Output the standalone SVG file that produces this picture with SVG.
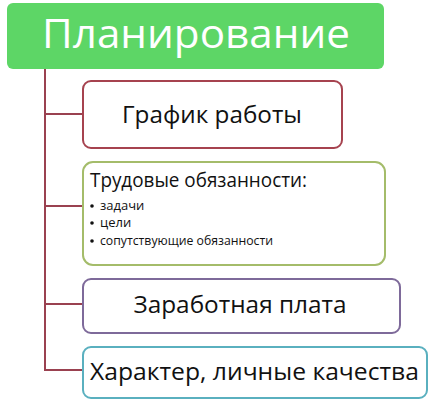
<svg xmlns="http://www.w3.org/2000/svg" width="434" height="408" viewBox="0 0 434 408">
<style>
.t{font-family:"Open Sans","Noto Sans","Liberation Sans",sans-serif;fill:#111}
.box{fill:#fff;stroke-width:2}
.conn{stroke:#9a4150;stroke-width:2;fill:none}
.dot{fill:#111}
</style>
<rect width="434" height="408" fill="#fff"/>
<g id="connectors">
<path class="conn" d="M45 68 V370 H83 M45 114 H83 M45 206 H83 M45 304 H83"/>
</g>
<g id="root">
<rect x="7" y="3" width="377" height="66" rx="6" fill="#5dd666"/>
<text class="t" x="196" y="48" text-anchor="middle" font-size="41" style="fill:#fff" textLength="308" lengthAdjust="spacingAndGlyphs">Планирование</text>
</g>
<g id="node-schedule">
<rect class="box" x="83" y="81" width="259" height="67" rx="8" stroke="#a6434f"/>
<text class="t" x="212" y="123" text-anchor="middle" font-size="23" textLength="180" lengthAdjust="spacingAndGlyphs">График работы</text>
</g>
<g id="node-duties">
<rect class="box" x="83" y="162" width="302" height="103" rx="10" stroke="#a4bc6a"/>
<text class="t" x="90" y="187" font-size="20" textLength="217" lengthAdjust="spacingAndGlyphs">Трудовые обязанности:</text>
<circle class="dot" cx="92" cy="206" r="1.8"/>
<text class="t" x="100" y="210" font-size="13">задачи</text>
<circle class="dot" cx="92" cy="223" r="1.8"/>
<text class="t" x="100" y="227" font-size="13">цели</text>
<circle class="dot" cx="92" cy="241" r="1.8"/>
<text class="t" x="100" y="245" font-size="13" textLength="173" lengthAdjust="spacingAndGlyphs">сопутствующие обязанности</text>
</g>
<g id="node-salary">
<rect class="box" x="83" y="279" width="317" height="54" rx="8" stroke="#7e6a9a"/>
<text class="t" x="240" y="313" text-anchor="middle" font-size="23" textLength="213" lengthAdjust="spacingAndGlyphs">Заработная плата</text>
</g>
<g id="node-character">
<rect class="box" x="83" y="347" width="344" height="51" rx="8" stroke="#5ab0bf"/>
<text class="t" x="90" y="380" font-size="23" textLength="329" lengthAdjust="spacingAndGlyphs">Характер, личные качества</text>
</g>
</svg>
